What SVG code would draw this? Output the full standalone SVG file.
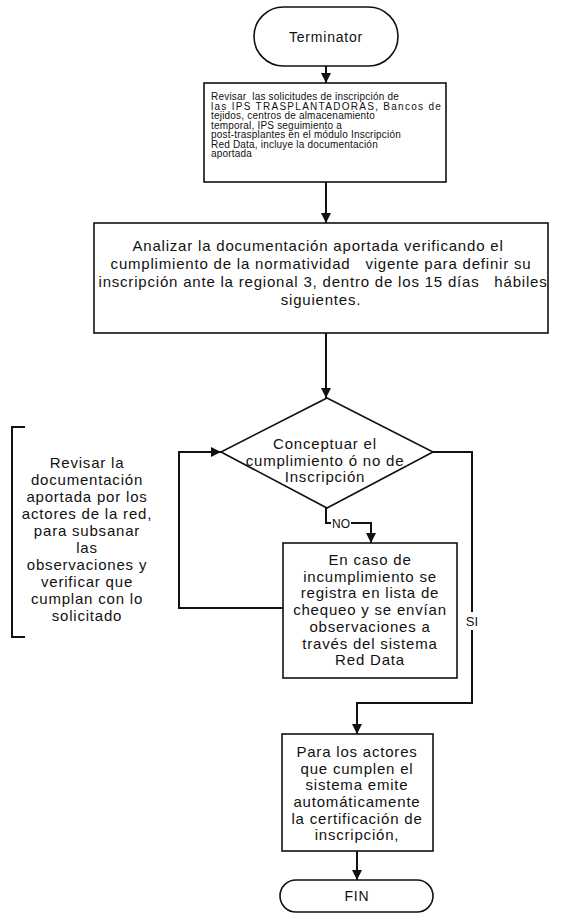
<svg xmlns="http://www.w3.org/2000/svg" width="562" height="915" viewBox="0 0 562 915">
<style>
.shape{fill:#fff;stroke:#111;stroke-width:1.6}
.conn{fill:none;stroke:#111;stroke-width:2}
.t{font-family:"Liberation Sans",Arial,sans-serif;font-size:15px;fill:#111;text-anchor:middle;letter-spacing:0.8px}
.s{font-family:"Liberation Sans",Arial,sans-serif;font-size:10px;fill:#111;letter-spacing:0.2px}
.lbl{font-family:"Liberation Sans",Arial,sans-serif;font-size:13px;fill:#111;text-anchor:middle}
</style>
<defs>
<marker id="arr" viewBox="0 0 10 10" refX="10" refY="5" markerWidth="5.5" markerHeight="5" orient="auto" markerUnits="strokeWidth">
<path d="M0,0 L10,5 L0,10 z" fill="#111"/>
</marker>
</defs>
<rect width="562" height="915" fill="#fff"/>
<g id="connectors">
<path class="conn" d="M326,66 L326,83" marker-end="url(#arr)"/>
<path class="conn" d="M326,182 L326,223" marker-end="url(#arr)"/>
<path class="conn" d="M326,333 L326,398" marker-end="url(#arr)"/>
<path class="conn" d="M326,508 L326,523 L371,523 L371,543" marker-end="url(#arr)"/>
<path class="conn" d="M283,608 L179,608 L179,452 L221,452" marker-end="url(#arr)"/>
<path class="conn" d="M433,452 L472,452 L472,703 L357,703 L357,734" marker-end="url(#arr)"/>
<path class="conn" d="M357,851 L357,880" marker-end="url(#arr)"/>
<rect x="331" y="516" width="20" height="14" fill="#fff"/>
<text class="lbl" x="341" y="528" style="font-size:12px">NO</text>
<rect x="462" y="612" width="20" height="18" fill="#fff"/>
<text class="lbl" x="472" y="626">SI</text>
</g>
<g id="terminator">
<rect class="shape" x="254" y="7" width="144" height="59" rx="29.5"/>
<text class="t" x="326" y="42" style="font-size:14px">Terminator</text>
</g>
<g id="box-revisar">
<rect class="shape" x="204" y="83" width="242" height="99"/>
<text class="s" x="211" y="100" xml:space="preserve">Revisar  las solicitudes de inscripción de</text>
<text class="s" x="211" y="109.5" textLength="230" lengthAdjust="spacing">las IPS TRASPLANTADORAS, Bancos de</text>
<text class="s" x="211" y="119">tejidos, centros de almacenamiento</text>
<text class="s" x="211" y="128.5">temporal, IPS seguimiento a</text>
<text class="s" x="211" y="138">post-trasplantes en el módulo Inscripción</text>
<text class="s" x="211" y="147.5">Red Data, incluye la documentación</text>
<text class="s" x="211" y="157">aportada</text>
</g>
<g id="box-analizar">
<rect class="shape" x="94" y="223" width="454" height="110"/>
<text class="t" x="318" y="251">Analizar la documentación aportada verificando el</text>
<text class="t" x="321" y="269" xml:space="preserve">cumplimiento de la normatividad   vigente para definir su</text>
<text class="t" x="323" y="287" xml:space="preserve">inscripción ante la regional 3, dentro de los 15 días   hábiles</text>
<text class="t" x="321" y="305">siguientes.</text>
</g>
<g id="decision">
<polygon class="shape" points="327,398 433,452 327,508 221,452"/>
<text class="t" x="325" y="449">Conceptuar el</text>
<text class="t" x="325" y="466">cumplimiento ó no de</text>
<text class="t" x="325" y="482">Inscripción</text>
</g>
<g id="box-incumplimiento">
<rect class="shape" x="283" y="543" width="174" height="135"/>
<text class="t" x="370" y="565">En caso de</text>
<text class="t" x="370" y="582">incumplimiento se</text>
<text class="t" x="370" y="598">registra en lista de</text>
<text class="t" x="370" y="615">chequeo y se envían</text>
<text class="t" x="370" y="632">observaciones a</text>
<text class="t" x="370" y="649">través del sistema</text>
<text class="t" x="370" y="665">Red Data</text>
</g>
<g id="note-revisar">
<path class="conn" d="M25,427 L12,427 L12,637 L25,637"/>
<text class="t" x="87" y="468">Revisar la</text>
<text class="t" x="87" y="485">documentación</text>
<text class="t" x="87" y="502">aportada por los</text>
<text class="t" x="87" y="519">actores de la red,</text>
<text class="t" x="87" y="536">para subsanar</text>
<text class="t" x="87" y="553">las</text>
<text class="t" x="87" y="570">observaciones y</text>
<text class="t" x="87" y="587">verificar que</text>
<text class="t" x="87" y="604">cumplan con lo</text>
<text class="t" x="87" y="621">solicitado</text>
</g>
<g id="box-certificacion">
<rect class="shape" x="282" y="734" width="151" height="117"/>
<text class="t" x="357" y="757">Para los actores</text>
<text class="t" x="357" y="774">que cumplen el</text>
<text class="t" x="357" y="790">sistema emite</text>
<text class="t" x="357" y="807">automáticamente</text>
<text class="t" x="357" y="824">la certificación de</text>
<text class="t" x="357" y="840">inscripción,</text>
</g>
<g id="fin">
<rect class="shape" x="280" y="880" width="153" height="32" rx="16"/>
<text class="t" x="357" y="901" style="font-size:14px">FIN</text>
</g>
</svg>
